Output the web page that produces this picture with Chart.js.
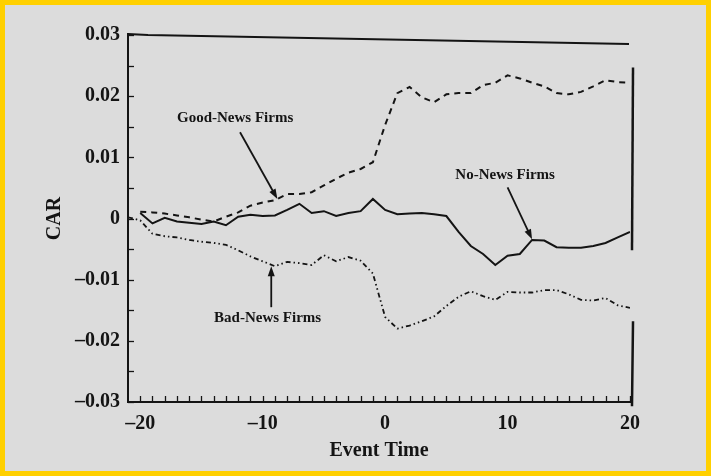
<!DOCTYPE html>
<html>
<head>
<meta charset="utf-8">
<script src="https://cdn.jsdelivr.net/npm/chart.js@4.4.1/dist/chart.umd.min.js"></script>
<style>
  html, body { margin: 0; padding: 0; background: #dcdcdc; }
  canvas { display: block; }
</style>
</head>
<body>
<canvas id="car" width="711" height="476"></canvas>
<script>
// Event days relative to the announcement (day 0)
const eventDays = [-20, -19, -18, -17, -16, -15, -14, -13, -12, -11, -10, -9, -8, -7, -6, -5, -4, -3, -2, -1,
                   0, 1, 2, 3, 4, 5, 6, 7, 8, 9, 10, 11, 12, 13, 14, 15, 16, 17, 18, 19, 20];
const badNewsDays = [-21, -20, -19, -18, -17, -16, -15, -14, -13, -12, -11, -10, -9, -8, -7, -6, -5, -4, -3, -2, -1,
                     0, 1, 2, 3, 4, 5, 6, 7, 8, 9, 10, 11, 12, 13, 14, 15, 16, 17, 18, 19, 20];

// Cumulative abnormal returns
const goodNewsCAR = [0.0011, 0.0010, 0.0008, 0.0005, 0.0002, -0.0002, -0.0005, 0.0003, 0.0010, 0.0021,
                     0.0026, 0.0030, 0.0040, 0.0040, 0.0043, 0.0054, 0.0065, 0.0075, 0.0081, 0.0092,
                     0.0153, 0.0205, 0.0215, 0.0198, 0.0190, 0.0203, 0.0205, 0.0205, 0.0218, 0.0222,
                     0.0234, 0.0229, 0.0222, 0.0216, 0.0205, 0.0203, 0.0207, 0.0216, 0.0226, 0.0223, 0.0222];
const noNewsCAR = [0.0009, -0.0008, 0.0001, -0.0005, -0.0007, -0.0009, -0.0005, -0.0011, 0.0003, 0.0006,
                   0.0004, 0.0005, 0.0014, 0.0024, 0.0009, 0.0012, 0.0004, 0.0009, 0.0012, 0.0032,
                   0.0014, 0.0007, 0.0008, 0.0009, 0.0007, 0.0004, -0.0022, -0.0045, -0.0058, -0.0076,
                   -0.0061, -0.0058, -0.0035, -0.0036, -0.0047, -0.0048, -0.0048, -0.0045, -0.0040, -0.0031, -0.0022];
const badNewsCAR = [0.0002, -0.0003, -0.0025, -0.0029, -0.0031, -0.0035, -0.0038, -0.0040, -0.0043, -0.0052,
                    -0.0062, -0.0070, -0.0078, -0.0071, -0.0073, -0.0076, -0.0060, -0.0070, -0.0063, -0.0069,
                    -0.0090, -0.0161, -0.0180, -0.0175, -0.0168, -0.0160, -0.0143, -0.0128, -0.0119, -0.0127,
                    -0.0133, -0.0120, -0.0121, -0.0121, -0.0117, -0.0117, -0.0124, -0.0133, -0.0134, -0.0130,
                    -0.0142, -0.0146];

const seriesNames = ['Good-News Firms', 'No-News Firms', 'Bad-News Firms'];

const yTickValues = [-0.03, -0.02, -0.01, 0, 0.01, 0.02, 0.03];
const yTickLabels = ['\u20130.03', '\u20130.02', '\u20130.01', '0', '0.01', '0.02', '0.03'];
const xTickValues = [-20, -10, 0, 10, 20];
const xTickLabels = ['\u201320', '\u201310', '0', '10', '20'];

// Callout label anchors and arrows, in (event day, CAR) units
const calloutText  = [[-12.25, 0.0164], [9.8, 0.0071], [-9.6, -0.0163]];
const calloutTail  = [[-11.85, 0.0141], [10.0, 0.0051], [-9.3, -0.0145]];
const calloutHead  = [[-8.8, 0.0032], [12.0, -0.0034], [-9.3, -0.0078]];

const INK = '#141414';
const SERIF = '"Liberation Serif", "DejaVu Serif", serif';

function points(xs, ys) { return xs.map((x, i) => ({ x: x, y: ys[i] })); }

const framePlugin = {
  id: 'frameAndCallouts',
  beforeDraw(chart) {
    const { ctx, width, height } = chart;
    ctx.save();
    ctx.fillStyle = '#dcdcdc';
    ctx.fillRect(0, 0, width, height);
    ctx.strokeStyle = '#ffd000';
    ctx.lineWidth = 5;
    ctx.strokeRect(2.5, 2.5, width - 5, height - 5);
    ctx.restore();
  },
  afterDatasetsDraw(chart) {
    const { ctx, chartArea: a, scales: { x, y } } = chart;
    ctx.save();
    ctx.strokeStyle = INK;
    ctx.lineCap = 'square';

    // axes frame: left and bottom solid, top rule sags slightly to the right,
    // right edge broken into two pieces
    ctx.lineWidth = 2;
    ctx.beginPath();
    ctx.moveTo(a.left, a.top - 1);
    ctx.lineTo(a.left, a.bottom);
    ctx.lineTo(a.right, a.bottom);
    ctx.stroke();

    ctx.beginPath();
    ctx.moveTo(a.left, a.top - 1);
    ctx.lineTo(a.left + 20, a.top);
    ctx.lineTo(a.right - 2, a.top + 9);
    ctx.stroke();

    ctx.lineWidth = 2.5;
    const rightPieces = [[0.0245, -0.005], [-0.017, -0.0305]];
    rightPieces.forEach(([v0, v1]) => {
      ctx.beginPath();
      ctx.moveTo(a.right + 3, y.getPixelForValue(v0));
      ctx.lineTo(a.right + 2, Math.min(y.getPixelForValue(v1), a.bottom + 6));
      ctx.stroke();
    });

    // inward tick marks
    ctx.lineWidth = 1.3;
    ctx.lineCap = 'butt';
    for (let i = -6; i <= 6; i++) {
      const py = Math.round(y.getPixelForValue(i * 0.005)) + 0.5;
      ctx.beginPath();
      ctx.moveTo(a.left, py);
      ctx.lineTo(a.left + 6, py);
      ctx.stroke();
    }
    for (let d = -20; d <= 20; d++) {
      const px = Math.round(x.getPixelForValue(d)) + 0.5;
      ctx.beginPath();
      ctx.moveTo(px, a.bottom);
      ctx.lineTo(px, a.bottom - 6);
      ctx.stroke();
    }

    // callouts
    ctx.fillStyle = INK;
    ctx.font = 'bold 15px ' + SERIF;
    ctx.textAlign = 'center';
    ctx.textBaseline = 'middle';
    seriesNames.forEach((name, i) => {
      const tx = x.getPixelForValue(calloutText[i][0]);
      const ty = y.getPixelForValue(calloutText[i][1]);
      ctx.fillText(name, tx, ty);

      const x0 = x.getPixelForValue(calloutTail[i][0]);
      const y0 = y.getPixelForValue(calloutTail[i][1]);
      const x1 = x.getPixelForValue(calloutHead[i][0]);
      const y1 = y.getPixelForValue(calloutHead[i][1]);
      const ang = Math.atan2(y1 - y0, x1 - x0);
      const hl = 10, hw = 3.5;
      ctx.lineWidth = 1.8;
      ctx.beginPath();
      ctx.moveTo(x0, y0);
      ctx.lineTo(x1 - Math.cos(ang) * hl * 0.8, y1 - Math.sin(ang) * hl * 0.8);
      ctx.stroke();
      ctx.beginPath();
      ctx.moveTo(x1, y1);
      ctx.lineTo(x1 - Math.cos(ang) * hl - Math.sin(ang) * hw, y1 - Math.sin(ang) * hl + Math.cos(ang) * hw);
      ctx.lineTo(x1 - Math.cos(ang) * hl + Math.sin(ang) * hw, y1 - Math.sin(ang) * hl - Math.cos(ang) * hw);
      ctx.closePath();
      ctx.fill();
    });
    ctx.restore();
  }
};

const tickFont = { family: SERIF, size: 20, weight: 'bold' };

new Chart(document.getElementById('car'), {
  type: 'line',
  data: {
    datasets: [
      { label: seriesNames[0], data: points(eventDays, goodNewsCAR),
        borderColor: INK, borderWidth: 2, borderDash: [6, 5], pointRadius: 0, tension: 0 },
      { label: seriesNames[1], data: points(eventDays, noNewsCAR),
        borderColor: INK, borderWidth: 2, pointRadius: 0, tension: 0 },
      { label: seriesNames[2], data: points(badNewsDays, badNewsCAR),
        borderColor: INK, borderWidth: 1.8, borderDash: [5, 3, 1.5, 3, 1.5, 3], pointRadius: 0, tension: 0 }
    ]
  },
  options: {
    responsive: false,
    animation: false,
    devicePixelRatio: 1,
    layout: { padding: { left: 0, top: 35, right: 81, bottom: 0 } },
    plugins: { legend: { display: false }, tooltip: { enabled: false } },
    scales: {
      x: {
        type: 'linear', min: -21, max: 20,
        grid: { display: false, drawTicks: false },
        border: { display: false },
        afterBuildTicks: s => { s.ticks = xTickValues.map(v => ({ value: v })); },
        afterFit: s => { s.height = 74; },
        ticks: { padding: 10, color: INK, font: tickFont, maxRotation: 0, autoSkip: false,
                 callback: (v, i) => xTickLabels[i] },
        title: { display: true, text: 'Event Time', color: INK, font: tickFont, padding: { top: 0, bottom: 13 } }
      },
      y: {
        type: 'linear', min: -0.03, max: 0.03,
        grid: { display: false, drawTicks: false },
        border: { display: false },
        afterBuildTicks: s => { s.ticks = yTickValues.map(v => ({ value: v })); },
        afterFit: s => { s.width = 128; },
        ticks: { padding: 8, color: INK, font: tickFont, autoSkip: false,
                 callback: (v, i) => yTickLabels[i] },
        title: { display: true, text: 'CAR', color: INK, font: tickFont, padding: { top: 43, bottom: 0 } }
      }
    }
  },
  plugins: [framePlugin]
});
</script>
</body>
</html>
